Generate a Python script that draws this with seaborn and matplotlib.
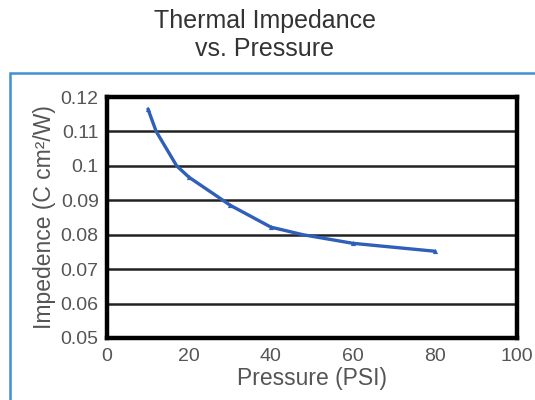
import matplotlib
matplotlib.use('agg')
import matplotlib.pyplot as plt
import seaborn as sns
import pandas as pd
from matplotlib.patches import Rectangle

# data markers
pressure = [10, 20, 30, 40, 60, 80]
impedance = [0.1165, 0.0967, 0.0886, 0.0822, 0.0775, 0.0752]
# extra readings where the smooth curve crosses the gridlines
curve_pressure = [10, 12, 17, 20, 28.3, 30, 40, 47.8, 60, 80]
curve_impedance = [0.1165, 0.11, 0.10, 0.0967, 0.09, 0.0886, 0.0822, 0.08, 0.0775, 0.0752]
x_ticks = [0, 20, 40, 60, 80, 100]
y_ticks = [0.05, 0.06, 0.07, 0.08, 0.09, 0.1, 0.11, 0.12]
y_labels = ['0.05', '0.06', '0.07', '0.08', '0.09', '0.1', '0.11', '0.12']

points = pd.DataFrame({'Pressure': pressure, 'Impedance': impedance})
curve = pd.DataFrame({'Pressure': curve_pressure, 'Impedance': curve_impedance})

sns.set_style('white')
plt.rcParams['font.family'] = ['Liberation Sans', 'DejaVu Sans']

fig = plt.figure(figsize=(5.35, 4), dpi=100)
ax = fig.add_axes([0.2, 0.155, 0.766, 0.6025])

# blue frame around the chart body
fig.add_artist(Rectangle((0.0187, -0.2), 1.2, 1.0175, fill=False,
                         edgecolor='#3f8fd2', lw=1.8, transform=fig.transFigure,
                         clip_on=False))

sns.lineplot(data=curve, x='Pressure', y='Impedance', ax=ax, color='#2f5fb8',
             lw=2.4, zorder=5, solid_capstyle='round', solid_joinstyle='round')
sns.scatterplot(data=points, x='Pressure', y='Impedance', ax=ax, color='#2f5fb8',
                marker='^', s=14, linewidth=0, zorder=6)

ax.set_xlim(0, 100)
ax.set_ylim(0.05, 0.12)
ax.set_xticks(x_ticks)
ax.set_yticks(y_ticks)
ax.set_yticklabels(y_labels)
ax.yaxis.grid(True, color='#222222', lw=1.8)
ax.set_axisbelow(True)
for s in ax.spines.values():
    s.set_visible(True)
    s.set_color('black')
    s.set_linewidth(3.2)
ax.tick_params(axis='both', direction='out', length=5, width=3, color='black',
               labelsize=14, labelcolor='#555555', pad=1)
ax.tick_params(axis='x', pad=2)

ax.set_xlabel('Pressure (PSI)', fontsize=16.5, color='#555555', labelpad=2)
ax.set_ylabel('Impedence (C cm²/W)', fontsize=16.5, color='#555555', labelpad=3)

fig.text(0.495, 0.9125, 'Thermal Impedance\nvs. Pressure', ha='center', va='center',
         fontsize=18, color='#333333', linespacing=1.2)

fig.savefig('out.png', dpi=100)
